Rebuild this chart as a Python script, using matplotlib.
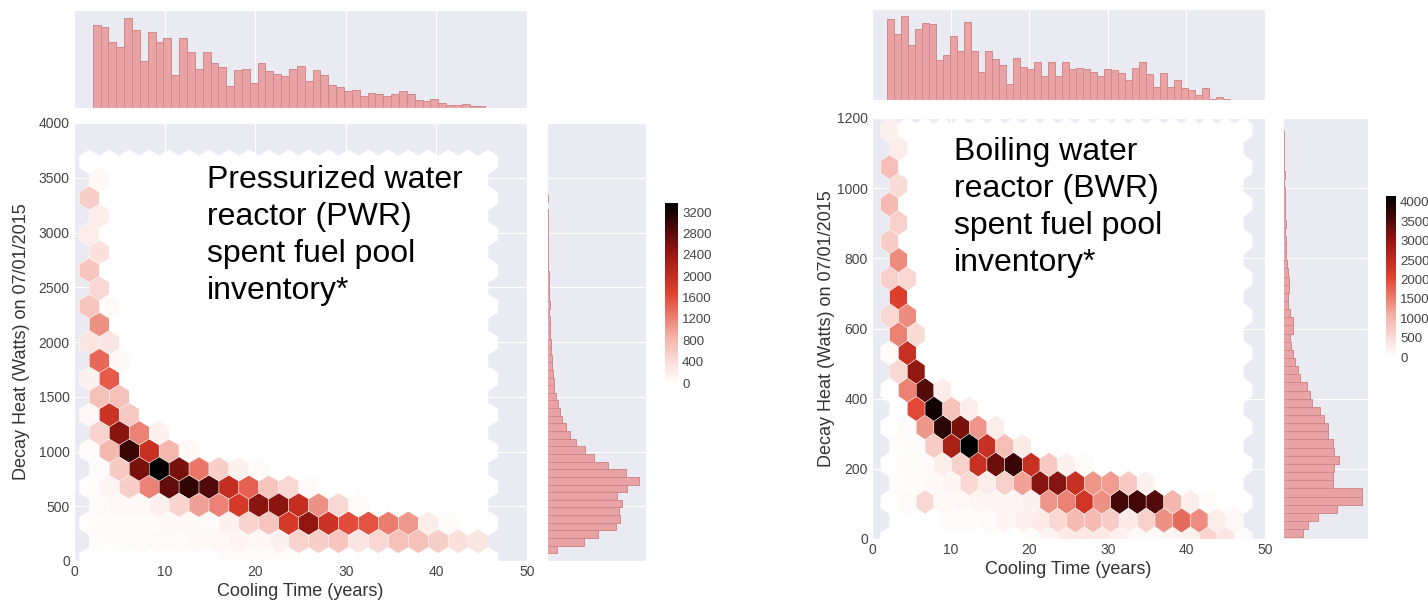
import numpy as np
import matplotlib
matplotlib.use("Agg")
import matplotlib.pyplot as plt
import seaborn as sns
from matplotlib.colors import LinearSegmentedColormap

sns.set_style("darkgrid")
plt.rcParams["font.family"] = ["Liberation Sans", "DejaVu Sans"]

# ---------------- PWR: assemblies per hex cell, one list per decay-heat row ----------------
pwr_row_watts = [3480, 3315, 3150, 2985, 2820, 2655, 2490, 2325, 2160, 1995, 1830, 1665,
                 1500, 1335, 1170, 1005, 840, 675, 510, 345, 180, 15]
pwr_row_years = [
    [2.8], [1.7], [2.8], [1.7], [2.8], [1.7], [2.8], [1.7, 3.9], [2.8], [1.7, 3.9],
    [2.8, 5.0], [1.7, 3.9], [2.8, 5.0], [1.7, 3.9, 6.1], [2.8, 5.0, 7.2, 9.4],
    [1.7, 3.9, 6.1, 8.3, 10.5, 12.7],
    [2.8, 5.0, 7.2, 9.4, 11.6, 13.8, 16.0, 18.2, 20.4],
    [1.7, 3.9, 6.1, 8.3, 10.5, 12.7, 14.9, 17.1, 19.3, 21.5, 23.7, 25.9],
    [2.8, 5.0, 7.2, 9.4, 11.6, 13.8, 16.0, 18.2, 20.4, 22.6, 24.8, 27.0, 29.2, 31.4],
    [1.7, 3.9, 6.1, 8.3, 10.5, 12.7, 14.9, 17.1, 19.3, 21.5, 23.7, 25.9, 28.1, 30.3,
     32.5, 34.7, 36.9, 39.1, 41.3],
    [2.8, 5.0, 7.2, 9.4, 11.6, 13.8, 16.0, 18.2, 20.4, 22.6, 24.8, 27.0, 29.2, 31.4,
     33.6, 35.8, 38.0, 40.2, 42.4, 44.6],
    [17.1, 19.3, 21.5, 23.7],
]
pwr_row_counts = [
    [80], [550], [200], [220], [350], [650], [450], [650, 60], [1100], [300, 300],
    [1400, 80], [150, 1500], [700, 700], [100, 1900, 600], [500, 2500, 1200, 150],
    [60, 800, 3000, 1950, 800, 80],
    [60, 600, 2600, 3370, 2600, 1300, 550, 170, 60],
    [30, 120, 550, 1200, 2750, 3050, 2850, 2000, 1450, 650, 450, 60],
    [60, 100, 80, 170, 500, 1000, 1200, 1800, 2500, 2500, 2000, 1100, 450, 60],
    [30, 40, 40, 40, 70, 70, 60, 170, 500, 650, 1800, 2450, 1900, 1600, 1550, 1250,
     1050, 200, 50],
    [30, 40, 50, 60, 60, 80, 100, 120, 100, 150, 500, 550, 650, 300, 450, 700, 700,
     550, 350, 300],
    [40, 50, 40, 30],
]

# ---------------- BWR ----------------
bwr_row_watts = [1166, 1113, 1060, 1007, 954, 901, 848, 795, 742, 689, 636, 583, 530, 477,
                 424, 371, 318, 265, 212, 159, 106, 53, 0]
bwr_row_years = [
    [2.25], [3.4], [2.25], [3.4], [2.25], [3.4], [2.25], [3.4], [2.25, 4.5], [3.4],
    [2.25, 4.5], [3.4, 5.6], [2.25, 4.5], [3.4, 5.6], [2.25, 4.5, 6.75, 9.0],
    [5.6, 7.9, 10.1, 12.4],
    [4.5, 6.75, 9.0, 11.25, 13.5, 15.75],
    [3.4, 5.6, 7.9, 10.1, 12.4, 14.6, 16.9, 19.1],
    [2.25, 4.5, 6.75, 9.0, 11.25, 13.5, 15.75, 18.0, 20.25, 22.5, 24.75, 27.0],
    [3.4, 5.6, 7.9, 10.1, 12.4, 14.6, 16.9, 19.1, 21.4, 23.6, 25.9, 28.1, 30.4, 32.6, 34.9],
    [2.25, 4.5, 6.75, 9.0, 11.25, 13.5, 15.75, 18.0, 20.25, 22.5, 24.75, 27.0, 29.25,
     31.5, 33.75, 36.0, 38.25, 40.5, 42.75],
    [10.1, 12.4, 14.6, 16.9, 19.1, 21.4, 23.6, 25.9, 28.1, 30.4, 32.6, 34.9, 37.1, 39.4,
     41.6, 43.9, 46.1],
    [20.25, 22.5, 24.75, 27.0, 29.25, 31.5, 33.75, 36.0, 38.25, 40.5, 42.75, 45.0, 47.25],
]
bwr_row_counts = [
    [200], [250], [900], [500], [950], [650], [700], [1400], [650, 550], [2100],
    [550, 1400], [1500, 500], [60, 2400], [550, 3000], [30, 1500, 3500, 250],
    [2000, 4000, 850, 250],
    [50, 1300, 3800, 3200, 1300, 250],
    [40, 60, 700, 2800, 4150, 2400, 900, 300],
    [30, 60, 80, 250, 650, 2400, 3300, 3700, 2400, 750, 200, 60],
    [40, 60, 100, 150, 550, 250, 650, 1200, 3100, 3100, 2400, 1300, 1250, 750, 200],
    [30, 80, 550, 100, 120, 130, 150, 150, 200, 1300, 1500, 2300, 1350, 3600, 3600, 3500,
     1000, 250, 60],
    [50, 60, 80, 150, 180, 300, 550, 950, 950, 700, 300, 650, 1350, 1700, 1400, 250, 120],
    [50, 150, 300, 350, 300, 200, 100, 80, 150, 200, 600, 350, 60],
]

# ---------------- marginal histograms (relative heights, 50 bins each) ----------------
pwr_years_hist = [242, 234, 190, 178, 262, 226, 137, 221, 190, 202,
                  97, 202, 162, 112, 162, 131, 119, 64, 109, 113,
                  72, 131, 106, 100, 94, 114, 122, 79, 110, 97,
                  68, 60, 48, 52, 34, 44, 40, 35, 40, 49,
                  40, 24, 21, 26, 14, 9, 8, 11, 6, 7]
pwr_years_range = (2.07, 45.4)
pwr_watts_hist = [30, 111, 153, 206, 218, 216, 223, 210, 238, 274,
                  235, 181, 140, 113, 88, 70, 56, 46, 38, 32,
                  26, 22, 20, 17, 15, 14, 12, 13, 10, 9,
                  9, 7, 8, 6, 7, 5, 5, 4, 4, 3,
                  4, 3, 2, 2, 2, 1, 2, 1, 1, 1]
pwr_watts_range = (70, 3560)

bwr_years_hist = [260, 212, 268, 175, 228, 245, 243, 127, 145, 203,
                  157, 250, 155, 88, 155, 132, 112, 52, 133, 107,
                  100, 123, 77, 122, 78, 123, 98, 102, 100, 90,
                  77, 100, 95, 87, 63, 103, 123, 82, 40, 85,
                  40, 63, 38, 33, 17, 37, 4, 11, 2, 1]
bwr_years_range = (1.95, 46.4)
bwr_watts_hist = [60, 74, 104, 164, 237, 237, 152, 152, 154, 170,
                  154, 152, 137, 135, 122, 112, 87, 82, 72, 50,
                  44, 35, 29, 24, 20, 29, 29, 20, 16, 14,
                  17, 18, 16, 12, 10, 8, 8, 7, 8, 6,
                  7, 6, 6, 4, 5, 4, 4, 3, 3, 2]
bwr_watts_range = (5, 1166)

pwr_text = "Pressurized water\nreactor (PWR)\nspent fuel pool\ninventory*"
bwr_text = "Boiling water\nreactor (BWR)\nspent fuel pool\ninventory*"

heat_cmap = LinearSegmentedColormap.from_list(
    "heat", [(0.0, "#ffffff"), (0.25, "#f4b4aa"), (0.5, "#e0402e"),
             (0.7, "#a01a12"), (0.86, "#4a0808"), (1.0, "#000000")])
HIST_FACE = "#e9a3a4"
HIST_EDGE = "#d08a8c"
TICK_COLOR = "#444444"

W, H = 1428, 601
fig = plt.figure(figsize=(W / 100, H / 100), dpi=100)


def px_axes(x0, y0, x1, y1):
    return fig.add_axes([x0 / W, 1 - y1 / H, (x1 - x0) / W, (y1 - y0) / H])


def flatten(rows_y, rows_x, rows_c):
    xs, ys, cs = [], [], []
    for y, xr, cr in zip(rows_y, rows_x, rows_c):
        xs += xr
        ys += [y] * len(xr)
        cs += cr
    return np.array(xs), np.array(ys), np.array(cs, float)


def draw_panel(boxes, cells, extent, vmax, ylim, ystep, years_hist, years_range,
               watts_hist, watts_range, cticks, text, text_xy, ylabelpad):
    main_box, top_box, side_box, cbar_box = boxes
    xs, ys, cs = flatten(*cells)

    ax = px_axes(*main_box)
    hb = ax.hexbin(xs, ys, C=cs, reduce_C_function=np.sum, mincnt=0,
                   gridsize=(20, 11), extent=extent, cmap=heat_cmap,
                   vmin=0, vmax=vmax, edgecolors="white", linewidths=0.3)
    ax.set_xlim(0, 50)
    ax.set_ylim(*ylim)
    ax.set_xticks(range(0, 51, 10))
    ax.set_yticks(np.arange(0, ylim[1] + 1, ystep))
    ax.tick_params(labelsize=10, colors=TICK_COLOR, length=0, pad=3)
    ax.set_xlabel("Cooling Time (years)", fontsize=13, color="#333333", labelpad=3)
    ax.set_ylabel("Decay Heat (Watts) on 07/01/2015", fontsize=13, color="#333333",
                  labelpad=ylabelpad)

    ax_top = px_axes(*top_box)
    edges = np.linspace(*years_range, len(years_hist) + 1)
    ax_top.hist(edges[:-1], bins=edges, weights=years_hist, color=HIST_FACE,
                edgecolor=HIST_EDGE, linewidth=0.7)
    ax_top.set_xlim(0, 50)
    ax_top.set_ylim(0, max(years_hist) * 1.085)
    ax_top.set_xticks(range(0, 51, 10))
    ax_top.set_yticks([])
    ax_top.tick_params(labelbottom=False, length=0)

    ax_side = px_axes(*side_box)
    edges = np.linspace(*watts_range, len(watts_hist) + 1)
    ax_side.hist(edges[:-1], bins=edges, weights=watts_hist, orientation="horizontal",
                 color=HIST_FACE, edgecolor=HIST_EDGE, linewidth=0.7)
    ax_side.set_ylim(*ylim)
    ax_side.set_xlim(0, max(watts_hist) * 1.08)
    ax_side.set_yticks(np.arange(0, ylim[1] + 1, ystep))
    ax_side.set_xticks([])
    ax_side.tick_params(labelleft=False, length=0)

    cax = px_axes(*cbar_box)
    cb = fig.colorbar(hb, cax=cax, ticks=cticks)
    cb.outline.set_visible(False)
    cax.grid(False)
    cax.tick_params(length=0, labelsize=9.5, colors=TICK_COLOR, pad=3)

    fig.text(text_xy[0] / W, 1 - text_xy[1] / H, text, fontsize=23, color="black",
             ha="left", va="top", linespacing=1.3)


draw_panel(((74, 123, 527, 561), (74, 10, 527, 108), (547, 123, 646, 561),
            (665, 203, 678, 383)),
           (pwr_row_watts, pwr_row_years, pwr_row_counts),
           extent=(1.7, 45.7, 15, 3645), vmax=3370, ylim=(0, 4000), ystep=500,
           years_hist=pwr_years_hist, years_range=pwr_years_range,
           watts_hist=pwr_watts_hist, watts_range=pwr_watts_range,
           cticks=range(0, 3201, 400), text=pwr_text, text_xy=(207, 165),
           ylabelpad=6)

draw_panel(((872, 118, 1265, 539), (872, 9, 1265, 100), (1283, 118, 1368, 539),
            (1386, 196, 1396, 357)),
           (bwr_row_watts, bwr_row_years, bwr_row_counts),
           extent=(2.25, 47.25, 0, 1166), vmax=4150, ylim=(0, 1200), ystep=200,
           years_hist=bwr_years_hist, years_range=bwr_years_range,
           watts_hist=bwr_watts_hist, watts_range=bwr_watts_range,
           cticks=range(0, 4001, 500), text=bwr_text, text_xy=(954, 137),
           ylabelpad=1)

fig.savefig("out.png", dpi=100)
